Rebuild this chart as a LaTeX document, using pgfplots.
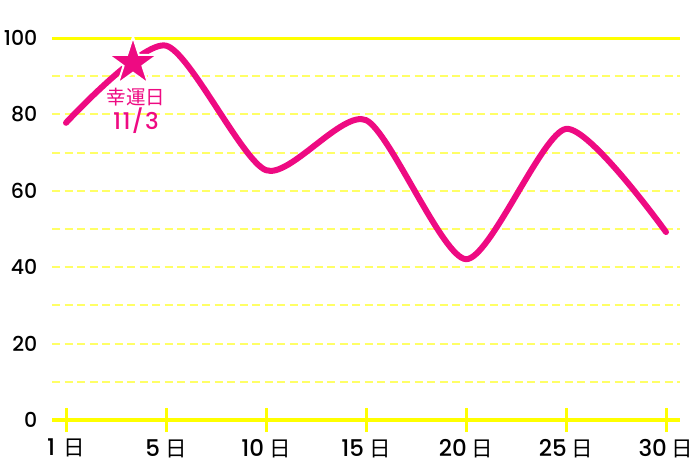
\documentclass[border=0pt]{standalone}
\usepackage{pgfplots}
\pgfplotsset{compat=1.18}
\usepackage{fontspec}
\setmainfont{Poppins Medium}
\newfontfamily\jp{Noto Sans CJK JP}
\definecolor{pk}{HTML}{EE0A82}
\definecolor{yl}{HTML}{FFFF00}
\definecolor{yld}{HTML}{FFFF66}
\pgfdeclareplotmark{fstar}{%
  \pgfpathmoveto{\pgfqpointpolar{90}{\pgfplotmarksize}}%
  \pgfpathlineto{\pgfqpointpolar{126}{0.382\pgfplotmarksize}}%
  \pgfpathlineto{\pgfqpointpolar{162}{\pgfplotmarksize}}%
  \pgfpathlineto{\pgfqpointpolar{198}{0.382\pgfplotmarksize}}%
  \pgfpathlineto{\pgfqpointpolar{234}{\pgfplotmarksize}}%
  \pgfpathlineto{\pgfqpointpolar{270}{0.382\pgfplotmarksize}}%
  \pgfpathlineto{\pgfqpointpolar{306}{\pgfplotmarksize}}%
  \pgfpathlineto{\pgfqpointpolar{342}{0.382\pgfplotmarksize}}%
  \pgfpathlineto{\pgfqpointpolar{18}{\pgfplotmarksize}}%
  \pgfpathlineto{\pgfqpointpolar{54}{0.382\pgfplotmarksize}}%
  \pgfpathclose
  \pgfusepathqfillstroke}
\newcommand{\nichi}{{\jp\fontsize{21.5}{24}\selectfont 日}}
\begin{document}
\begin{tikzpicture}
\useasboundingbox (0,0) rectangle (700pt,467pt);
\begin{axis}[at={(52pt,47pt)}, anchor=south west, scale only axis,
  width=628pt, height=382pt,
  xmin=-0.14, xmax=6.14, ymin=0, ymax=100, clip=false,
  axis line style={draw=none},
  xtick={0,...,6},
  xticklabels={1\hspace{8pt}\nichi,5\hspace{5pt}\nichi,10\hspace{5pt}\nichi,15\hspace{5pt}\nichi,20\hspace{5pt}\nichi,25\hspace{5pt}\nichi,30\hspace{5pt}\nichi},
  ytick={0,20,...,100},
  ytick style={draw=none},
  xtick style={draw=yl, line width=3pt},
  tick align=center, major tick length=24pt,
  xtick pos=bottom, ytick pos=left,
  tick label style={/pgf/number format/assume math mode=true},
  xticklabel style={font=\fontsize{23}{25}\selectfont, inner sep=0pt, yshift=-7pt},
  yticklabel style={font=\fontsize{20.5}{24}\selectfont, inner sep=0pt, xshift=-2.5pt},
]
\draw[yld, dash pattern=on 8pt off 4.5pt, line width=2pt] (axis cs:-0.14,10) -- (axis cs:6.14,10);
\draw[yld, dash pattern=on 8pt off 4.5pt, line width=2pt] (axis cs:-0.14,20) -- (axis cs:6.14,20);
\draw[yld, dash pattern=on 8pt off 4.5pt, line width=2pt] (axis cs:-0.14,30) -- (axis cs:6.14,30);
\draw[yld, dash pattern=on 8pt off 4.5pt, line width=2pt] (axis cs:-0.14,40) -- (axis cs:6.14,40);
\draw[yld, dash pattern=on 8pt off 4.5pt, line width=2pt] (axis cs:-0.14,50) -- (axis cs:6.14,50);
\draw[yld, dash pattern=on 8pt off 4.5pt, line width=2pt] (axis cs:-0.14,60) -- (axis cs:6.14,60);
\draw[yld, dash pattern=on 8pt off 4.5pt, line width=2pt] (axis cs:-0.14,70) -- (axis cs:6.14,70);
\draw[yld, dash pattern=on 8pt off 4.5pt, line width=2pt] (axis cs:-0.14,80) -- (axis cs:6.14,80);
\draw[yld, dash pattern=on 8pt off 4.5pt, line width=2pt] (axis cs:-0.14,90) -- (axis cs:6.14,90);
\draw[yl, line width=3pt] (axis cs:-0.14,100) -- (axis cs:6.14,100);
\draw[yl, line width=4pt] (axis cs:-0.14,0) -- (axis cs:6.14,0);
\addplot[pk, line width=6pt, smooth, tension=0.42, line cap=round, line join=round]
  coordinates {(0,77.8)(1,98)(2,65.4)(3,78.5)(4,42.1)(5,76.2)(6,49.2)};
\addplot[only marks, mark=fstar, mark size=26pt, mark options={fill=pk, draw=white, line width=2pt}]
  coordinates {(0.67,93.5)};
\node[text=pk, align=center] at (axis cs:0.70,80.9) {{\jp\fontsize{19.5}{25}\selectfont 幸運日}\\{\fontsize{23}{25}\selectfont\addfontfeatures{LetterSpace=6}11/3}};
\end{axis}
\end{tikzpicture}
\end{document}
